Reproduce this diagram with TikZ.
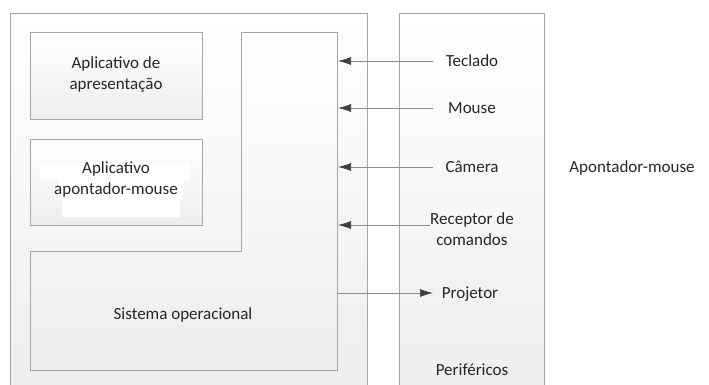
\documentclass[tikz,border=0pt]{standalone}
\usepackage{fontspec}
\setmainfont{Carlito}
\usetikzlibrary{arrows.meta}
\definecolor{edge}{HTML}{A6A6A6}
\definecolor{linec}{HTML}{8C8C8C}
\definecolor{tipc}{HTML}{404040}
\begin{document}
\begin{tikzpicture}[x=1pt,y=-1pt,
  panel/.style={draw=edge,line width=0.8pt,top color=white,bottom color=black!7},
  lbl/.style={font=\fontsize{17}{21}\selectfont,align=center,text=black!85,inner sep=0pt},
  inarrow/.style={draw=linec,line width=0.7pt,-{Latex[length=13pt,width=8pt,color=tipc]}}]
\clip (0,0) rectangle (709,385);
\fill[white] (0,0) rectangle (709,385);
% outer panels
\node[panel,minimum width=357pt,minimum height=380pt,anchor=north west,inner sep=0pt] (sw) at (10,13) {};
\node[panel,minimum width=145pt,minimum height=380pt,anchor=north west,inner sep=0pt] (per) at (399,13) {};
% application boxes
\node[panel,minimum width=172pt,minimum height=87pt,anchor=north west,inner sep=0pt] (app1) at (30,32) {};
\node[panel,minimum width=172pt,minimum height=86pt,anchor=north west,inner sep=0pt] (app2) at (30,139) {};
% operating system L-shape
\path[panel] (30,251) -- (241,251) -- (241,32) -- (337,32) -- (337,370) -- (30,370) -- cycle;
% white highlight strips behind text
\fill[white] (40,163) rectangle (190,180);
\fill[white] (58,180) rectangle (183,200);
\fill[white] (62,198) rectangle (180,217);
% texts
\node[lbl] (t1) at (116,75) {Aplicativo de\\apresentação};
\node[lbl] (t2) at (116,179) {Aplicativo\\apontador-mouse};
\node[lbl] (os) at (183,315) {Sistema operacional};
\node[lbl] (tec) at (472,61) {Teclado};
\node[lbl] (mou) at (472,108) {Mouse};
\node[lbl] (cam) at (472,167) {Câmera};
\node[lbl] (rec) at (472,229) {Receptor de\\comandos};
\node[lbl] (pro) at (470,294) {Projetor};
\node[lbl] (perl) at (472,370) {Periféricos};
\node[lbl] (am) at (632,168) {Apontador-mouse};
% connector endpoints
\coordinate (s1) at (433,61);  \coordinate (e1) at (338,61);
\coordinate (s2) at (433,108); \coordinate (e2) at (338,108);
\coordinate (s3) at (433,167); \coordinate (e3) at (338,167);
\coordinate (s4) at (430,225); \coordinate (e4) at (338,225);
\coordinate (s5) at (337.5,293); \coordinate (e5) at (433,293);
\draw[inarrow] (s1) -- (e1);
\draw[inarrow] (s2) -- (e2);
\draw[inarrow] (s3) -- (e3);
\draw[inarrow] (s4) -- (e4);
\draw[inarrow] (s5) -- (e5);
\end{tikzpicture}
\end{document}
